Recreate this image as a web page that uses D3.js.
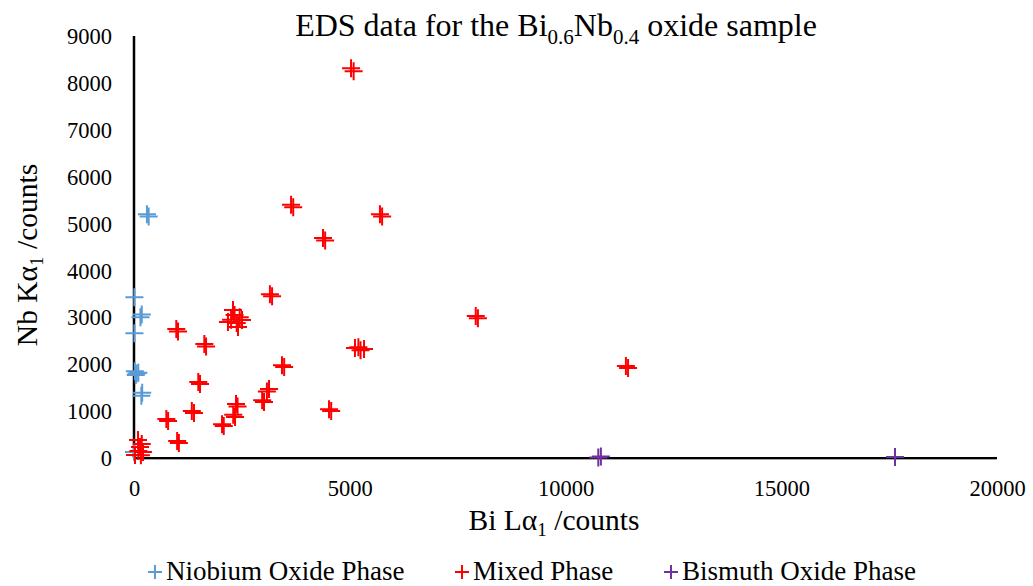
<!DOCTYPE html>
<html>
<head>
<meta charset="utf-8">
<script src="https://cdn.jsdelivr.net/npm/d3@7"></script>
<style>
  html, body { margin: 0; padding: 0; background: #fff; }
  svg { display: block; }
</style>
</head>
<body>
<svg id="chart" width="1033" height="586"></svg>
<script>
// EDS counts: [Bi Lα1, Nb Kα1] per analysed spot
const niobiumPhase = [
  [300, 5200], [340, 5150],
  [10, 3430],
  [180, 3060], [150, 3000],
  [10, 2660],
  [20, 1850], [60, 1800], [40, 1770], [100, 1820],
  [190, 1390], [170, 1330],
  [0, 130]
];
const mixedPhase = [
  [5030, 8310], [5090, 8250],
  [3640, 5400], [3690, 5350],
  [5700, 5200], [5750, 5150],
  [4380, 4690], [4430, 4640],
  [3150, 3490], [3200, 3450],
  [2294, 3156], [2330, 3050], [2178, 2900], [2250, 2950],
  [2503, 2942], [2410, 2793], [2380, 2880], [2450, 3000],
  [980, 2750], [1020, 2700],
  [1630, 2430], [1670, 2380],
  [3430, 1980], [3480, 1940],
  [1490, 1620], [1530, 1580],
  [3129, 1471], [3080, 1420], [3013, 1194], [2970, 1230],
  [2364, 1151], [2400, 1100], [2341, 874], [2300, 920],
  [1340, 1000], [1390, 960],
  [750, 830], [790, 790],
  [2040, 720], [2080, 680],
  [1000, 360], [1040, 320],
  [7920, 3030], [7970, 2980],
  [11400, 1960], [11450, 1920],
  [4520, 1040], [4570, 1000],
  [5121, 2345], [5330, 2324], [5250, 2300], [5200, 2360],
  [93, 384], [209, 128], [23, 64], [139, 235], [180, 300], [100, 150], [160, 60]
];
const bismuthPhase = [
  [10820, 30], [10760, 10],
  [17636, 20]
];

const xTicks = [0, 5000, 10000, 15000, 20000];
const yTicks = [0, 1000, 2000, 3000, 4000, 5000, 6000, 7000, 8000, 9000];

const seriesNames = ["Niobium Oxide Phase", "Mixed Phase", "Bismuth Oxide Phase"];
const seriesColors = ["#5B9BD5", "#FF0000", "#7030A0"];
const seriesData = [niobiumPhase, mixedPhase, bismuthPhase];

const serif = "Liberation Serif";
const svg = d3.select("#chart");

const x = d3.scaleLinear().domain([0, 20000]).range([134, 997]);
const y = d3.scaleLinear().domain([0, 9000]).range([458, 36]);

// Axes (no tick marks, labels only)
const xAxis = d3.axisBottom(x).tickValues(xTicks).tickSize(0).tickPadding(22).tickFormat(d3.format("d"));
const yAxis = d3.axisLeft(y).tickValues(yTicks).tickSize(0).tickPadding(22).tickFormat(d3.format("d"));

const gx = svg.append("g").attr("transform", `translate(0,${y(0)})`).call(xAxis);
const gy = svg.append("g").attr("transform", `translate(${x(0)},0)`).call(yAxis);

[gx, gy].forEach(g => {
  g.attr("font-family", serif).attr("font-size", 22.5);
  g.select(".domain").remove();
  g.selectAll("text").attr("fill", "#000");
});
gx.selectAll("text").attr("dy", "0.72em");
gy.selectAll("text").attr("dy", "0.34em");

// axis lines
svg.append("line")
  .attr("x1", x(0)).attr("x2", x(20000))
  .attr("y1", y(0) + 1.5).attr("y2", y(0) + 1.5)
  .attr("stroke", "#a6a6a6").attr("stroke-width", 1);
svg.append("line")
  .attr("x1", x(0)).attr("x2", x(20000))
  .attr("y1", y(0)).attr("y2", y(0))
  .attr("stroke", "#000").attr("stroke-width", 2);
svg.append("line")
  .attr("x1", x(0)).attr("x2", x(0))
  .attr("y1", y(9000)).attr("y2", y(0))
  .attr("stroke", "#000").attr("stroke-width", 2.5);

// plus markers
const plus = "M-9,0H9M0,-9V9";
seriesData.forEach((data, i) => {
  svg.append("g")
    .selectAll("path")
    .data(data)
    .join("path")
    .attr("d", plus)
    .attr("transform", d => `translate(${x(d[0])},${y(d[1])})`)
    .attr("fill", "none")
    .attr("stroke", seriesColors[i])
    .attr("stroke-width", 2);
});

// Title with subscripts
const title = svg.append("text")
  .attr("x", 556).attr("y", 36)
  .attr("text-anchor", "middle")
  .attr("font-family", serif)
  .attr("font-size", 32)
  .attr("fill", "#000");
title.append("tspan").text("EDS data for the Bi");
title.append("tspan").text("0.6").attr("dy", 8).attr("font-size", 21);
title.append("tspan").text("Nb").attr("dy", -8);
title.append("tspan").text("0.4").attr("dy", 8).attr("font-size", 21);
title.append("tspan").text(" oxide sample").attr("dy", -8);

// X axis title
const xt = svg.append("text")
  .attr("x", 554).attr("y", 530)
  .attr("text-anchor", "middle")
  .attr("font-family", serif)
  .attr("font-size", 29.5)
  .attr("fill", "#000");
xt.append("tspan").text("Bi Lα");
xt.append("tspan").text("1").attr("dy", 6).attr("font-size", 19);
xt.append("tspan").text(" /counts").attr("dy", -6);

// Y axis title
const yt = svg.append("text")
  .attr("transform", "translate(37,255) rotate(-90)")
  .attr("text-anchor", "middle")
  .attr("font-family", serif)
  .attr("font-size", 29.5)
  .attr("fill", "#000");
yt.append("tspan").text("Nb Kα");
yt.append("tspan").text("1").attr("dy", 6).attr("font-size", 19);
yt.append("tspan").text(" /counts").attr("dy", -6);

// Legend
const legendX = [155, 462, 671];
const legend = svg.append("g");
seriesNames.forEach((name, i) => {
  const g = legend.append("g").attr("transform", `translate(${legendX[i]},572)`);
  g.append("path")
    .attr("d", "M-7,0H7M0,-7V7")
    .attr("stroke", seriesColors[i])
    .attr("stroke-width", 2)
    .attr("fill", "none");
  g.append("text")
    .attr("x", 11).attr("y", 8)
    .attr("font-family", serif)
    .attr("font-size", 27)
    .attr("fill", "#000")
    .text(name);
});
</script>
</body>
</html>
